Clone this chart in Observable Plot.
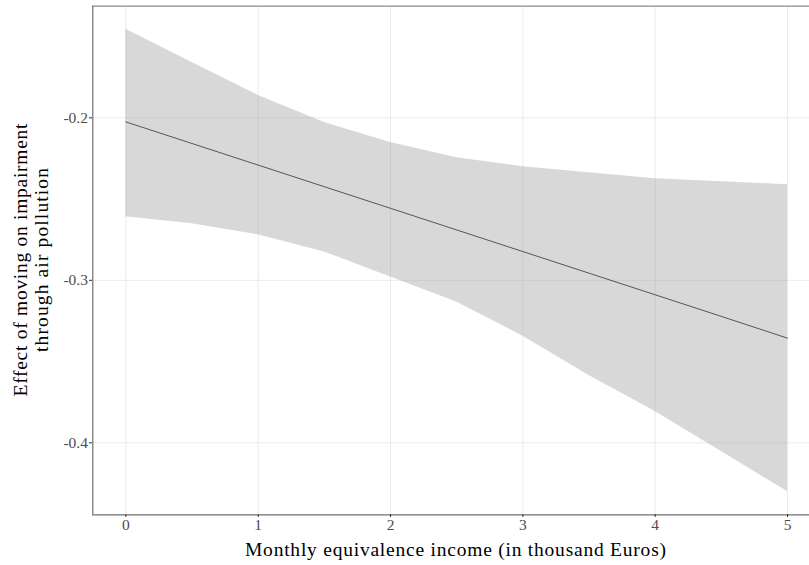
<!DOCTYPE html>
<html>
<head>
<meta charset="utf-8">
<script src="https://cdn.jsdelivr.net/npm/d3@7"></script>
<script src="https://cdn.jsdelivr.net/npm/@observablehq/plot@0.6"></script>
<style>
  html, body { margin: 0; padding: 0; background: #fff; }
  #chart svg { display: block; }
</style>
</head>
<body>
<div id="chart"></div>
<script>
// Marginal effect of moving on impairment through air pollution, by income
const income   = [0, 0.5, 1, 1.5, 2, 2.5, 3, 3.5, 4, 4.5, 5];
const estimate = [-0.2025, -0.2158, -0.2291, -0.2424, -0.2557, -0.2690, -0.2823, -0.2956, -0.3089, -0.3222, -0.3356];
const lower    = [-0.2609, -0.2652, -0.2720, -0.2825, -0.2980, -0.3134, -0.3344, -0.3585, -0.3807, -0.4054, -0.4301];
const upper    = [-0.1455, -0.1659, -0.1862, -0.2029, -0.2152, -0.2245, -0.2301, -0.2338, -0.2375, -0.2393, -0.2412];

const xTicks = [0, 1, 2, 3, 4, 5];
const yTicks = [-0.4, -0.3, -0.2];
const yTickLabels = ["-0.4", "-0.3", "-0.2"];
const xTitle = "Monthly equivalence income (in thousand Euros)";
const yTitle = ["Effect of moving on impairment", "through air pollution"];

const rows = income.map((x, i) => ({x, est: estimate[i], lo: lower[i], hi: upper[i]}));

const xDomain = [-0.25, 5.25];
const yDomain = [-0.4443, -0.1313];
const font = "'Liberation Serif', 'DejaVu Serif', serif";

const chart = Plot.plot({
  width: 809,
  height: 565,
  marginLeft: 92,
  marginRight: 0,
  marginTop: 6,
  marginBottom: 51,
  style: {fontFamily: font, background: "#fff", overflow: "hidden"},
  x: {domain: xDomain, range: [92.3, 820.1]},
  y: {domain: yDomain, range: [514.3, 5.7]},
  marks: [
    Plot.gridX(xTicks, {stroke: "#ebebeb", strokeOpacity: 1, strokeWidth: 1}),
    Plot.gridY(yTicks, {stroke: "#ebebeb", strokeOpacity: 1, strokeWidth: 1}),
    Plot.areaY(rows, {x: "x", y1: "lo", y2: "hi", fill: "#999999", fillOpacity: 0.38}),
    Plot.lineY(rows, {x: "x", y: "est", stroke: "#333333", strokeWidth: 0.8}),
    Plot.ruleY([yDomain[1]], {stroke: "#8a8a8a", strokeWidth: 1.2}),
    Plot.ruleY([yDomain[0]], {stroke: "#6e6e6e", strokeWidth: 1.2}),
    Plot.ruleX([xDomain[0]], {stroke: "#6e6e6e", strokeWidth: 1.2}),
    Plot.axisX(xTicks, {
      tickSize: 3, tickPadding: 1.5, stroke: "#333", fontSize: 15.5, fill: "#4d4d4d",
      tickFormat: d => String(d), label: null
    }),
    Plot.axisY(yTicks, {
      tickSize: 3, tickPadding: 1.5, stroke: "#333", fontSize: 15.5, fill: "#4d4d4d",
      tickFormat: (d, i) => yTickLabels[i], label: null
    })
  ]
});

const svg = d3.select(chart);

svg.append("text")
  .attr("x", 455.5)
  .attr("y", 556)
  .attr("text-anchor", "middle")
  .attr("font-family", font)
  .attr("font-size", 19.5)
  .attr("fill", "#000")
  .attr("textLength", 421)
  .attr("lengthAdjust", "spacing")
  .text(xTitle);

const yt = svg.append("g")
  .attr("transform", "translate(0,260) rotate(-90)")
  .attr("font-family", font)
  .attr("font-size", 19.5)
  .attr("fill", "#000")
  .attr("text-anchor", "middle");
yt.append("text").attr("x", 0).attr("y", 27)
  .attr("textLength", 273).attr("lengthAdjust", "spacing").text(yTitle[0]);
yt.append("text").attr("x", 0).attr("y", 48)
  .attr("textLength", 184).attr("lengthAdjust", "spacing").text(yTitle[1]);

document.getElementById("chart").appendChild(chart);
</script>
</body>
</html>
